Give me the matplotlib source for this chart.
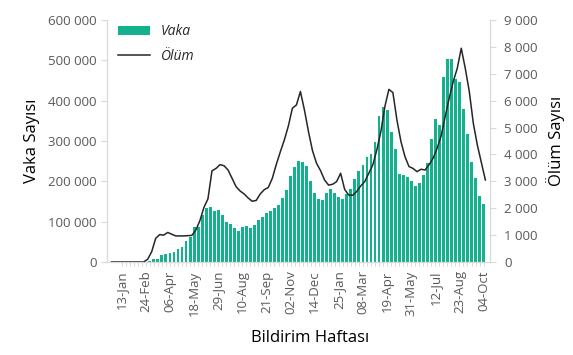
import numpy as np
import pandas as pd
import matplotlib
matplotlib.use('Agg')
from matplotlib import pyplot as plt
from matplotlib.ticker import FuncFormatter, MultipleLocator

plt.rcParams['font.family'] = ['Open Sans', 'DejaVu Sans']

# weekly notifications, week starting 13-Jan-2020 .. 04-Oct-2021
weeks = pd.date_range('2020-01-13', '2021-10-04', freq='7D')

cases = [
    0, 0, 0, 0, 0, 0, 0, 1500, 6600, 7400,
    17400, 20700, 22300, 25600, 31400, 38000, 53000, 61000, 86000, 87700,
    116600, 133000, 136500, 127400, 128000, 116600, 100000, 93400, 83500, 77700,
    86800, 90100, 85200, 91000, 103400, 112500, 122400, 126500, 134800, 141400,
    158000, 179500, 212500, 235700, 249800, 249000, 238200, 200100, 172000, 156300,
    154600, 170400, 182000, 172000, 162100, 157100, 168700, 180300, 205100, 226600,
    241500, 261300, 268800, 297700, 363000, 385400, 377100, 322500, 279500, 217500,
    215000, 211700, 200100, 189400, 196800, 215800, 244800, 305200, 354800, 339900,
    459800, 502800, 502800, 453200, 447400, 378800, 316700, 248900, 209200, 164600,
    143900,
]

# deaths series starts three weeks earlier (30-Dec-2019 .. 04-Oct-2021 -> index -3..90)
death_start = -3
deaths = [
    0, 0, 0, 0, 0, 0, 0, 0, 0, 100,
    380, 880, 1020, 1000, 1100, 1030, 970, 970, 970, 980,
    990, 1190, 1540, 2030, 2350, 3390, 3480, 3620, 3580, 3420,
    3110, 2800, 2640, 2530, 2380, 2260, 2290, 2530, 2690, 2770,
    3110, 3630, 4100, 4540, 5060, 5720, 5840, 6340, 5650, 4850,
    4140, 3670, 3400, 3050, 2860, 2890, 2990, 3300, 2700, 2490,
    2480, 2620, 2830, 2990, 3300, 3610, 4170, 4850, 5780, 6420,
    6300, 5280, 4480, 3920, 3550, 3480, 3360, 3450, 3420, 3620,
    3860, 4230, 4690, 5410, 6090, 6710, 7200, 7950, 7200, 6340,
    5160, 4350, 3700, 3050,
]

tick_every = 6
bar_color = '#14B18F'
grey = '#595959'
spine_grey = '#D9D9D9'


def space_thousands(v, pos):
    return f'{int(v):,}'.replace(',', ' ')


fig = plt.figure(figsize=(5.73, 3.55), dpi=100)
ax = fig.add_axes([107 / 573, 93 / 355, 383 / 573, 242 / 355])
ax2 = ax.twinx()

xs = np.arange(len(weeks))
bars = ax.bar(xs, cases, width=0.72, color=bar_color, label='Vaka', zorder=2)

dx = np.arange(death_start, death_start + len(deaths)) + 0.45
line, = ax2.plot(dx, deaths, color='#262626', lw=1.1, label='Ölüm')

ax.set_xlim(-3.66, 91.6)
ax.set_ylim(0, 600000)
ax2.set_ylim(0, 9000)
ax.yaxis.set_major_locator(MultipleLocator(100000))
ax2.yaxis.set_major_locator(MultipleLocator(1000))
ax.yaxis.set_major_formatter(FuncFormatter(space_thousands))
ax2.yaxis.set_major_formatter(FuncFormatter(space_thousands))

ax.set_xticks(xs[::tick_every])
ax.set_xticklabels([d.strftime('%d-%b') for d in weeks[::tick_every]], rotation=90)
ax.set_xticks(xs, minor=True)

for a in (ax, ax2):
    a.spines['top'].set_visible(False)
    for s in ('left', 'right', 'bottom'):
        a.spines[s].set_color(spine_grey)
    a.tick_params(axis='both', which='both', colors=spine_grey, labelcolor=grey,
                  labelsize=9.5, length=4, width=0.8)
ax.tick_params(axis='x', which='minor', length=3)
ax.tick_params(axis='x', which='major', length=3, pad=3)
ax2.tick_params(axis='y', pad=6)

ax.set_ylabel('Vaka Sayısı', fontsize=12, color='black', labelpad=6)
ax2.set_ylabel('Ölüm Sayısı', fontsize=12, color='black', labelpad=6)
ax.set_xlabel('Bildirim Haftası', fontsize=12, color='black')
ax.xaxis.set_label_coords(0.53, -0.28)

leg = ax.legend([bars, line], ['Vaka', 'Ölüm'], loc='upper left',
                bbox_to_anchor=(-0.005, 1.035), frameon=False, handlelength=2.3,
                handleheight=0.6, labelspacing=0.7, fontsize=10)
for t in leg.get_texts():
    t.set_fontstyle('italic')
    t.set_color('#262626')

fig.savefig('out.png', dpi=100)
